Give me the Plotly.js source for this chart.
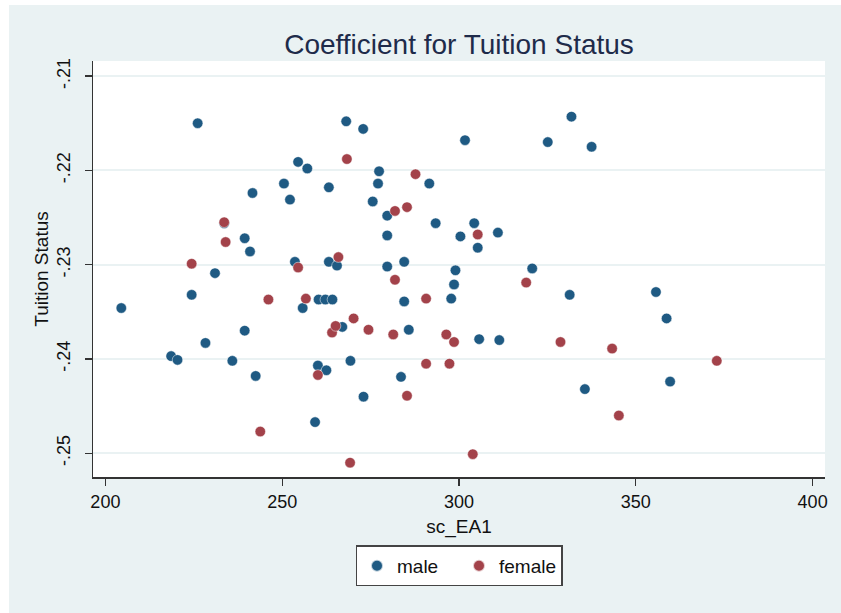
<!DOCTYPE html>
<html>
<head>
<meta charset="utf-8">
<script src="https://cdn.plot.ly/plotly-3.0.1.min.js"></script>
<style>
  html, body { margin: 0; padding: 0; background: #ffffff; width: 841px; height: 613px; overflow: hidden; }
  #chart { position: absolute; left: 9px; top: 5px; width: 832px; height: 608px; }
</style>
</head>
<body>
<div id="chart"></div>
<script>
// sc_EA1 values and coefficients, male
const maleX = [204.5, 218.6, 220.4, 224.4, 226.1, 228.3, 231.0, 233.6, 235.9, 239.4,
  239.4, 240.9, 241.6, 242.5, 250.5, 252.2, 253.6, 254.5, 255.8, 257.1,
  259.3, 260.1, 260.3, 262.2, 262.5, 263.2, 263.2, 264.2, 265.5, 267.0,
  268.1, 269.3, 272.9, 273.0, 275.6, 277.1, 277.4, 279.7, 279.7, 279.7,
  283.6, 284.5, 284.5, 285.8, 291.6, 293.4, 297.8, 298.6, 299.0, 300.4,
  301.7, 304.3, 305.3, 305.7, 311.0, 311.4, 320.7, 325.1, 331.3, 331.8,
  335.6, 337.5, 355.7, 358.7, 359.7];
const maleY = [-0.2346, -0.2397, -0.2401, -0.2332, -0.2150, -0.2383, -0.2309, -0.2256, -0.2402, -0.2272,
  -0.2370, -0.2286, -0.2224, -0.2418, -0.2214, -0.2231, -0.2297, -0.2191, -0.2346, -0.2198,
  -0.2467, -0.2407, -0.2337, -0.2337, -0.2412, -0.2218, -0.2297, -0.2337, -0.2301, -0.2366,
  -0.2148, -0.2402, -0.2156, -0.2440, -0.2233, -0.2214, -0.2201, -0.2248, -0.2269, -0.2302,
  -0.2419, -0.2297, -0.2339, -0.2369, -0.2214, -0.2256, -0.2336, -0.2321, -0.2306, -0.2270,
  -0.2168, -0.2256, -0.2282, -0.2379, -0.2266, -0.2380, -0.2304, -0.2170, -0.2332, -0.2143,
  -0.2432, -0.2175, -0.2329, -0.2357, -0.2424];

// female
const femaleX = [224.4, 233.6, 234.0, 243.8, 246.1, 254.5, 256.7, 260.1, 264.1, 265.1,
  265.9, 268.3, 269.2, 270.2, 274.4, 281.4, 281.9, 281.9, 285.3, 285.3,
  287.7, 290.7, 290.7, 296.4, 297.3, 298.6, 303.9, 305.3, 319.0, 328.7,
  343.3, 345.2, 372.9];
const femaleY = [-0.2299, -0.2255, -0.2276, -0.2477, -0.2337, -0.2303, -0.2336, -0.2417, -0.2372, -0.2365,
  -0.2292, -0.2188, -0.2510, -0.2357, -0.2369, -0.2374, -0.2316, -0.2243, -0.2239, -0.2439,
  -0.2204, -0.2336, -0.2405, -0.2374, -0.2405, -0.2382, -0.2501, -0.2268, -0.2319, -0.2382,
  -0.2389, -0.2460, -0.2402];

const seriesNames = ["male", "female"];
const xTickVals = [200, 250, 300, 350, 400];
const xTickText = ["200", "250", "300", "350", "400"];
const yTickVals = [-0.25, -0.24, -0.23, -0.22, -0.21];
const yTickText = ["-.25", "-.24", "-.23", "-.22", "-.21"];

const FONT = "Liberation Sans, Arial, Helvetica, sans-serif";

const traces = [
  {
    x: maleX, y: maleY, type: "scatter", mode: "markers", name: seriesNames[0],
    marker: { color: "#1f5a83", size: 10.5, line: { color: "rgba(255,255,255,0.7)", width: 0.7 } }
  },
  {
    x: femaleX, y: femaleY, type: "scatter", mode: "markers", name: seriesNames[1],
    marker: { color: "#a3424a", size: 10.5, line: { color: "rgba(255,255,255,0.7)", width: 0.7 } }
  }
];

const layout = {
  width: 832, height: 608,
  paper_bgcolor: "#eaf2f3",
  plot_bgcolor: "#ffffff",
  margin: { l: 84, r: 16, t: 56, b: 136, pad: 0 },
  font: { family: FONT, size: 18, color: "#111111" },
  title: {
    text: "Coefficient for Tuition Status",
    font: { family: FONT, size: 28, color: "#1e2b4a" },
    x: 0.5, xref: "paper", xanchor: "center",
    y: 1 - 39 / 608, yref: "container", yanchor: "middle"
  },
  xaxis: {
    range: [196.5, 403.5],
    tickvals: xTickVals, ticktext: xTickText,
    ticks: "outside", ticklen: 7, tickwidth: 1.3, tickcolor: "#333333",
    showline: true, linecolor: "#333333", linewidth: 1.5,
    showgrid: false, zeroline: false,
    ticklabelstandoff: 1,
    tickfont: { family: FONT, size: 18, color: "#111111" },
    title: { text: "sc_EA1", font: { family: FONT, size: 19, color: "#111111" }, standoff: 8 }
  },
  yaxis: {
    range: [-0.25252, -0.20840],
    tickvals: yTickVals, ticktext: yTickText,
    tickangle: -90,
    ticks: "outside", ticklen: 7, tickwidth: 1.3, tickcolor: "#333333",
    showline: true, linecolor: "#333333", linewidth: 1.5,
    showgrid: true, gridcolor: "#eaf2f3", gridwidth: 2,
    zeroline: false,
    ticklabelstandoff: 7,
    tickfont: { family: FONT, size: 18, color: "#111111" },
    title: { text: "Tuition Status", font: { family: FONT, size: 19, color: "#111111" }, standoff: 0 }
  },
  showlegend: true,
  legend: {
    orientation: "h",
    x: 0.5, xanchor: "center",
    y: -0.1645, yanchor: "top",
    bgcolor: "#ffffff",
    bordercolor: "#444444", borderwidth: 1.5,
    font: { family: FONT, size: 19, color: "#111111" },
    itemsizing: "constant",
    entrywidth: 57, entrywidthmode: "pixels"
  }
};

Plotly.newPlot("chart", traces, layout, { displayModeBar: false, staticPlot: true });
</script>
</body>
</html>
